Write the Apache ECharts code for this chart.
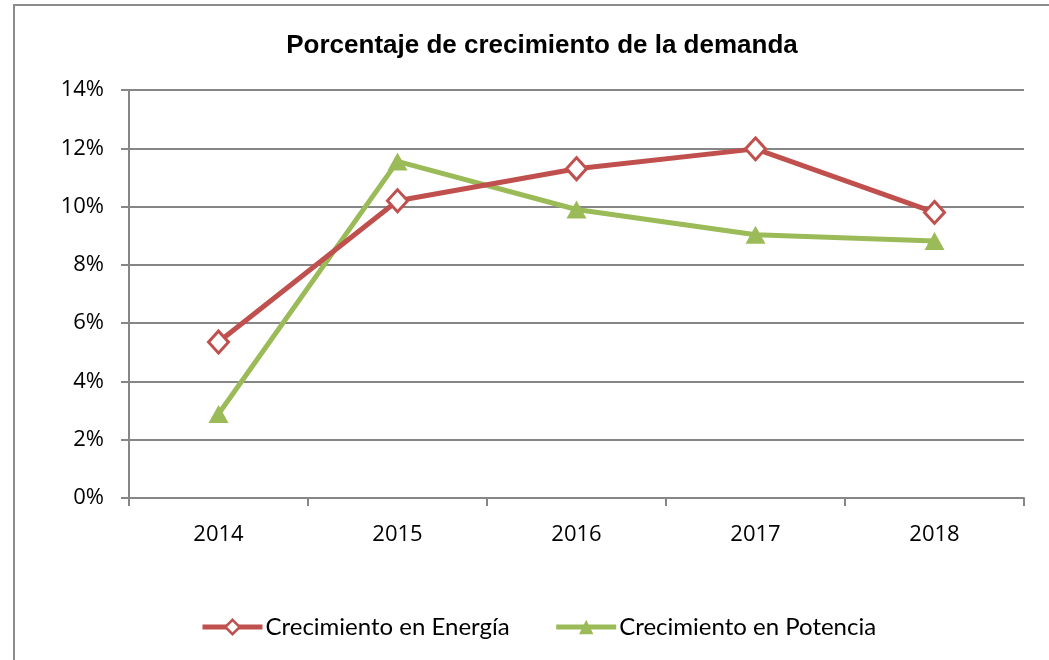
<!DOCTYPE html>
<html>
<head>
    <meta charset="utf-8">
    <title>Porcentaje de crecimiento de la demanda</title>
    <script src="https://cdn.jsdelivr.net/npm/echarts@6/dist/echarts.min.js"></script>
    <style>
        html, body { margin: 0; padding: 0; background: #ffffff; }
        #container { width: 1049px; height: 660px; }
    </style>
</head>
<body>
<div id="container"></div>
<script>
    // datos
    var years = ['2014', '2015', '2016', '2017', '2018'];
    var energia = [5.35, 10.2, 11.3, 11.98, 9.8];
    var potencia = [2.88, 11.55, 9.9, 9.03, 8.82];

    var myChart = echarts.init(document.getElementById('container'));
    var option = {
        backgroundColor: '#ffffff',
        animation: false,
        graphic: [{
            type: 'rect',
            shape: { x: 14, y: 5, width: 1050, height: 670 },
            style: { fill: 'none', stroke: '#8c8c8c', lineWidth: 2 }
        }],
        title: {
            text: 'Porcentaje de crecimiento de la demanda',
            left: 537,
            textAlign: 'center',
            top: 28,
            textStyle: {
                fontFamily: 'Liberation Sans Narrow, Liberation Sans, Arial',
                fontSize: 26,
                fontWeight: 'bold',
                color: '#000'
            }
        },
        grid: { left: 129, right: 25, top: 90, bottom: 162 },
        legend: {
            bottom: 16,
            left: 195,
            itemWidth: 60,
            itemHeight: 18,
            itemGap: 44,
            textStyle: { fontFamily: 'Lato, Open Sans', fontSize: 24, color: '#000', padding: [0, 0, 0, -2] },
            data: [
                { name: 'Crecimiento en Energía', lineStyle: { width: 5 }, itemStyle: { borderWidth: 2.5 } },
                { name: 'Crecimiento en Potencia', lineStyle: { width: 5 } }
            ]
        },
        xAxis: {
            type: 'category',
            data: years,
            boundaryGap: true,
            axisLine: { lineStyle: { color: '#868686', width: 2 } },
            axisTick: { show: true, length: 8, lineStyle: { color: '#868686', width: 2 } },
            axisLabel: { fontFamily: 'Open Sans', fontSize: 22, color: '#000', margin: 26 }
        },
        yAxis: {
            type: 'value',
            min: 0,
            max: 14,
            interval: 2,
            axisLine: { show: true, lineStyle: { color: '#868686', width: 2 } },
            axisTick: { show: true, length: 8, lineStyle: { color: '#868686', width: 2 } },
            splitLine: { lineStyle: { color: '#868686', width: 2 } },
            axisLabel: {
                formatter: '{value}%',
                fontFamily: 'Open Sans',
                fontSize: 22,
                color: '#000',
                margin: 25
            }
        },
        series: [
            {
                name: 'Crecimiento en Energía',
                type: 'line',
                data: energia,
                symbol: 'diamond',
                symbolSize: [20, 22],
                lineStyle: { color: '#c0504d', width: 5 },
                itemStyle: { color: '#ffffff', borderColor: '#c0504d', borderWidth: 3 },
                z: 3
            },
            {
                name: 'Crecimiento en Potencia',
                type: 'line',
                data: potencia,
                symbol: 'triangle',
                symbolSize: [20, 18],
                lineStyle: { color: '#9bbb59', width: 5 },
                itemStyle: { color: '#9bbb59' },
                z: 2
            }
        ]
    };
    myChart.setOption(option);
</script>
</body>
</html>
